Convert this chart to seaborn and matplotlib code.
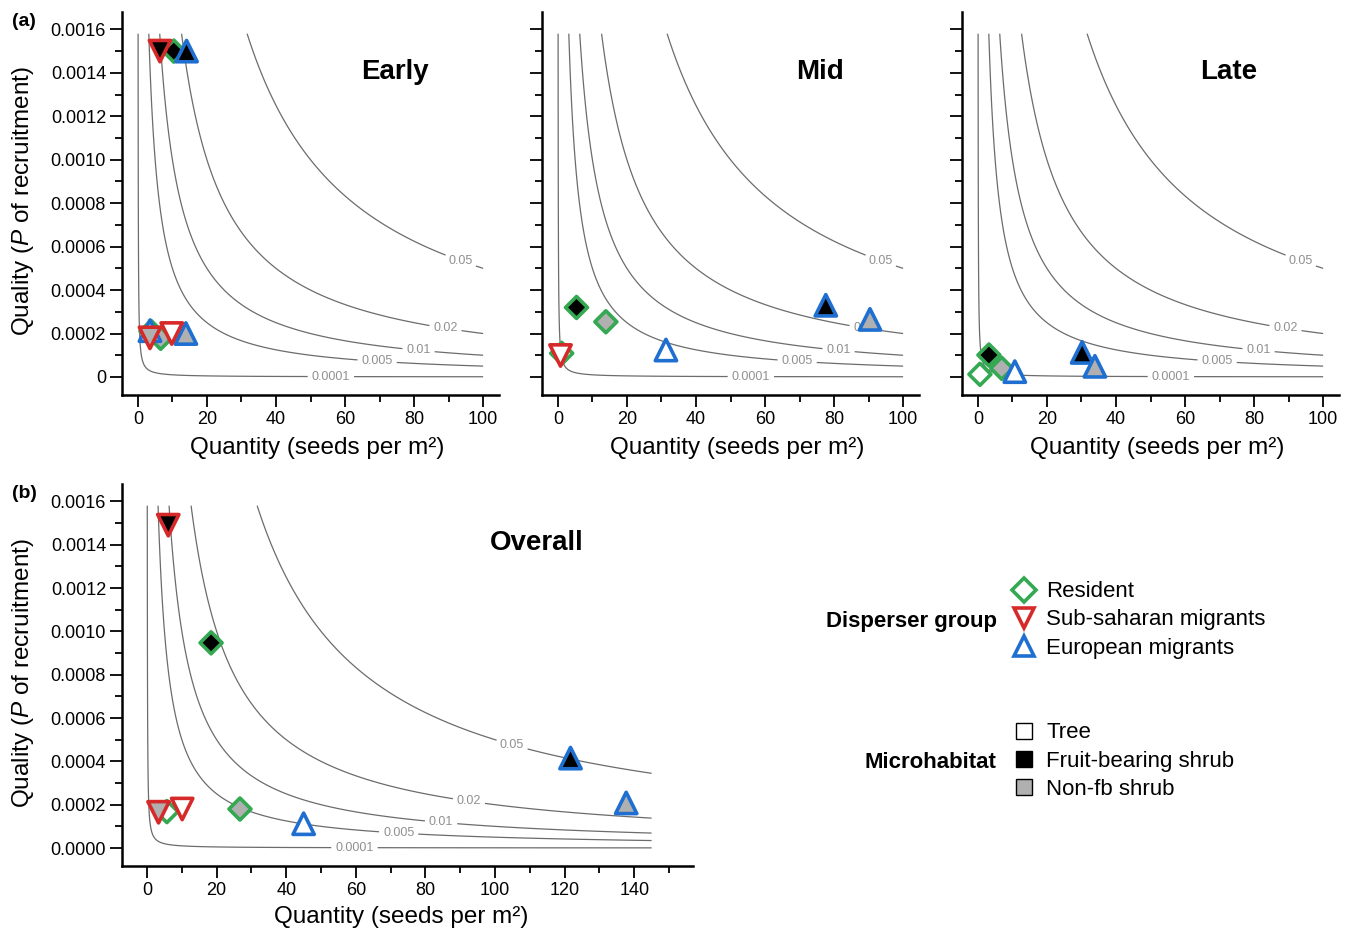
import numpy as np
import pandas as pd
import matplotlib
matplotlib.use('Agg')
import matplotlib.pyplot as plt
from matplotlib.lines import Line2D
from matplotlib.ticker import MultipleLocator, FuncFormatter
import seaborn as sns

sns.set_style('ticks')
plt.rcParams['font.family'] = ['Liberation Sans', 'DejaVu Sans']
plt.rcParams['mathtext.fontset'] = 'custom'
plt.rcParams['mathtext.it'] = 'Liberation Sans:italic'
plt.rcParams['mathtext.rm'] = 'Liberation Sans'
for key in ['text.color', 'axes.labelcolor', 'xtick.color', 'ytick.color', 'axes.edgecolor']:
    plt.rcParams[key] = 'black'

groups = ['Resident', 'Sub-saharan migrants', 'European migrants']
habitats = ['Tree', 'Fruit-bearing shrub', 'Non-fb shrub']
levels = [0.0001, 0.005, 0.01, 0.02, 0.05]
level_labels = ['0.0001', '0.005', '0.01', '0.02', '0.05']

R, S, E = groups
T, F, N = habitats

# (a) seasons
early_group = [R, R, R, S, S, S, E, E, E]
early_habitat = [T, F, N, T, F, N, T, F, N]
early_qty = [3.8, 10.4, 6.6, 9.8, 6.4, 3.5, 3.5, 14.1, 13.9]
early_qual = [0.00021, 0.0015, 0.000178, 0.0002, 0.0015, 0.00018, 0.000213, 0.0015, 0.0002]

mid_group = [R, R, R, S, E, E, E]
mid_habitat = [T, F, N, T, T, F, N]
mid_qty = [1.1, 5.4, 13.9, 0.6, 31.3, 77.6, 90.4]
mid_qual = [0.000109, 0.00032, 0.000254, 0.000103, 0.000124, 0.00033, 0.000265]

late_group = [R, R, R, E, E, E]
late_habitat = [T, F, N, T, F, N]
late_qty = [0.6, 3.2, 6.9, 10.7, 30.2, 33.9]
late_qual = [0.0000123, 0.000101, 0.00004, 0.0000245, 0.000113, 0.000049]

# (b) overall
overall_group = [R, R, R, S, S, S, E, E, E]
overall_habitat = [T, F, N, T, F, N, T, F, N]
overall_qty = [5.7, 18.4, 26.7, 10.1, 6.1, 3.3, 45.0, 121.7, 137.7]
overall_qual = [0.000168, 0.000947, 0.00018, 0.00018, 0.00149, 0.000165, 0.000112, 0.000415, 0.000208]

edge_colors = {R: '#34a853', S: '#d62a2a', E: '#1f6fd1'}
markers = {R: 'D', S: 'v', E: '^'}
sizes = {R: 125, S: 235, E: 235}
fills = {T: 'white', F: 'black', N: '#b0b0b0'}
draw_order = [R, E, S]

W, H = 1351, 933
fig = plt.figure(figsize=(W / 100, H / 100), dpi=100)


def px_axes(left, top, right, bottom):
    return fig.add_axes([left / W, 1 - bottom / H, (right - left) / W, (bottom - top) / H])


def draw_panel(ax, df, xmax, xlim, label_x, title, title_xy, zero_fmt, show_y):
    ax.set_xlim(*xlim)
    ax.set_ylim(-0.000083, 0.00168)
    gx, gy = np.meshgrid(np.linspace(0, xmax, 3001), np.linspace(0, 0.00158, 1201))
    cs = ax.contour(gx, gy, gx * gy, levels=levels, colors='#6c6c6c',
                    linewidths=0.9, zorder=1)
    spots = [(lx, lv / lx) for lx, lv in zip(label_x, levels)]
    texts = ax.clabel(cs, inline=True, inline_spacing=4,
                      fmt=dict(zip(levels, level_labels)), fontsize=9,
                      colors='#909090', manual=spots)
    for t in texts:
        t.set_rotation(0)

    for g in draw_order:
        sub = df[df['group'] == g]
        if sub.empty:
            continue
        sns.scatterplot(data=sub, x='quantity', y='quality', hue='habitat',
                        hue_order=habitats, palette=fills, marker=markers[g],
                        s=sizes[g], edgecolor=edge_colors[g], linewidth=2.6,
                        legend=False, ax=ax, zorder=3, clip_on=False)

    sns.despine(ax=ax)
    for side in ['left', 'bottom']:
        ax.spines[side].set_linewidth(1.8)
    ax.xaxis.set_major_locator(MultipleLocator(20))
    ax.xaxis.set_minor_locator(MultipleLocator(10))
    ax.yaxis.set_major_locator(MultipleLocator(0.0002))
    ax.yaxis.set_minor_locator(MultipleLocator(0.0001))
    ax.tick_params(which='major', length=8.5, width=1.3, labelsize=13, pad=3)
    ax.tick_params(which='minor', length=5, width=1.3)
    ax.yaxis.set_major_formatter(FuncFormatter(
        lambda v, p: zero_fmt if abs(v) < 1e-9 else f'{v:.4f}'))
    ax.text(*title_xy, title, transform=ax.transAxes, ha='center', va='center',
            fontsize=20, fontweight='bold')
    ax.set_xlabel('Quantity (seeds per m²)', fontsize=17.5)
    if show_y:
        ax.set_ylabel(r'Quality ($P$ of recruitment)', fontsize=17.5)
    else:
        ax.set_ylabel('')
        ax.tick_params(axis='y', labelleft=False)


def frame(g, h, q, p):
    return pd.DataFrame({'group': g, 'habitat': h, 'quantity': q, 'quality': p})


season_label_x = [55.9, 69.3, 81.3, 89.1, 93.5]
overall_label_x = [59.6, 72.3, 84.5, 92.5, 104.9]

ax_early = px_axes(122, 12, 499, 395)
ax_mid = px_axes(542, 12, 919, 395)
ax_late = px_axes(962, 12, 1339, 395)
ax_all = px_axes(122, 484, 693, 866)

draw_panel(ax_early, frame(early_group, early_habitat, early_qty, early_qual),
           100, (-4.6, 104.6), season_label_x, 'Early', (0.724, 0.843), '0', True)
draw_panel(ax_mid, frame(mid_group, mid_habitat, mid_qty, mid_qual),
           100, (-4.6, 104.6), season_label_x, 'Mid', (0.737, 0.843), '0', False)
draw_panel(ax_late, frame(late_group, late_habitat, late_qty, late_qual),
           100, (-4.6, 104.6), season_label_x, 'Late', (0.708, 0.843), '0', False)
draw_panel(ax_all, frame(overall_group, overall_habitat, overall_qty, overall_qual),
           145, (-7.2, 156.9), overall_label_x, 'Overall', (0.727, 0.846), '0.0000', True)

for ax in [ax_early, ax_mid, ax_late]:
    ax.xaxis.set_label_coords(0.519, -0.110)
ax_early.yaxis.set_label_coords(-0.228, 0.5065)
ax_all.xaxis.set_label_coords(0.489, -0.105)
ax_all.yaxis.set_label_coords(-0.1506, 0.504)

fig.text(12 / W, 1 - 22 / H, '(a)', fontsize=14, fontweight='bold', va='center')
fig.text(12 / W, 1 - 494 / H, '(b)', fontsize=14, fontweight='bold', va='center')

# legends
group_handles = [Line2D([], [], linestyle='none', marker=markers[g],
                        markersize=12.5 if g == R else 15,
                        markerfacecolor='white', markeredgecolor=edge_colors[g],
                        markeredgewidth=2.6) for g in groups]
habitat_handles = [Line2D([], [], linestyle='none', marker='s', markersize=12,
                          markerfacecolor=fills[h], markeredgecolor='black',
                          markeredgewidth=1.0) for h in habitats]
legend_kw = dict(loc='center left', frameon=False, fontsize=16, handlelength=1.0,
                 handletextpad=0.5, labelspacing=0.32, borderpad=0, borderaxespad=0)
fig.legend(handles=group_handles, labels=groups,
           bbox_to_anchor=(1013 / W, 1 - 620 / H), **legend_kw)
fig.legend(handles=habitat_handles, labels=habitats,
           bbox_to_anchor=(1013 / W, 1 - 761 / H), **legend_kw)
fig.text(997 / W, 1 - 621 / H, 'Disperser group', fontsize=16, fontweight='bold',
         ha='right', va='center')
fig.text(996 / W, 1 - 762 / H, 'Microhabitat', fontsize=16, fontweight='bold',
         ha='right', va='center')

fig.savefig('out.png', dpi=100)
